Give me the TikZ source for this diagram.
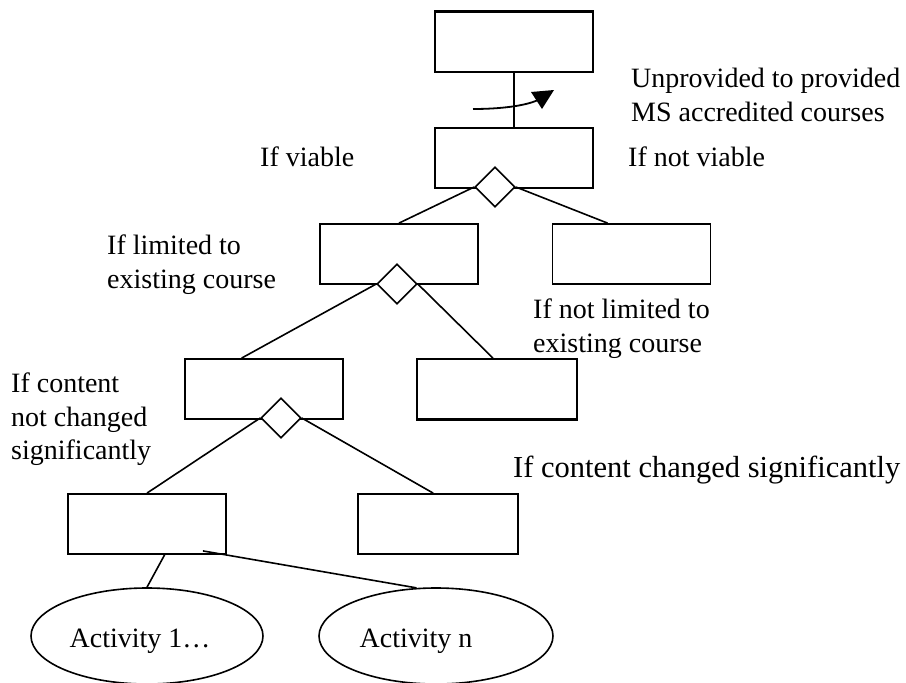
\documentclass[tikz,border=0pt]{standalone}
\usepackage{fontspec}
\setmainfont{Liberation Serif}
\usetikzlibrary{shapes.geometric,calc}

\begin{document}
\begin{tikzpicture}[x=1pt,y=-1pt,
  box/.style={draw, line width=1.8pt, minimum width=158pt, minimum height=60pt, inner sep=0pt},
  gate/.style={draw, fill=white, shape=diamond, line width=1.6pt, minimum width=40pt, minimum height=40pt, inner sep=0pt},
  leaf/.style={draw, ellipse, line width=1.6pt, minimum width=232pt, minimum height=96pt, inner sep=0pt},
  link/.style={line width=1.6pt},
  lbl/.style={anchor=base west, inner sep=0pt, font=\fontsize{28}{34}\selectfont},
]
\useasboundingbox (0,0) rectangle (906,683);

% decision boxes
\node[box] (top) at (514,42) {};
\node[box] (b2) at (514,158) {};
\node[box] (bA) at (399,254) {};
\node[box] (bB) at (631.5,254) {};
\node[box] (bC) at (264,389) {};
\node[box, minimum width=160pt] (bD) at (497,389) {};
\node[box] (bE) at (147,524) {};
\node[box, minimum width=160pt] (bF) at (438,524) {};

% heavier edges
\draw[line width=3pt] (top.north west) -- (top.north east);
\draw[line width=3pt] (bD.south west) -- (bD.south east);

% activities
\node[leaf] (e1) at (147,636) {};
\node[leaf, minimum width=234pt] (e2) at (436,636) {};

% branch points
\node[gate] (g1) at (495,187) {};
\node[gate] (g2) at (397,284) {};
\node[gate] (g3) at (281,418) {};

% connectors
\draw[line width=1.2pt] (top.south) -- (b2.north);
\draw[link] (g1.west) -- (bA.north);
\draw[link] (g1.east) -- ($(bB.north west)!0.35!(bB.north east)$);
\draw[link] (g2.west) -- ($(bC.north west)!0.36!(bC.north east)$);
\draw[link] (g2.east) -- ($(bD.north west)!0.475!(bD.north east)$);
\draw[link] (g3.west) -- (bE.north);
\draw[link] (g3.east) -- ($(bF.north west)!0.47!(bF.north east)$);
\draw[link] ($(bE.south west)!0.61!(bE.south east)$) -- (e1.north);
\draw[link] ($(bE.south east)+(-24,-4)$) -- (e2.112);

% transition arrow
\coordinate (sw0) at (473,109);
\coordinate (sw1) at (538,100);
\draw[line width=1.8pt] (sw0) .. controls (500,109) and (525,106) .. (sw1);
\fill (531,92) -- (554,90) -- (542,109) -- cycle;

% labels
\node[lbl] (u1) at (631,87) {Unprovided to provided};
\node[lbl] (u2) at (631,121) {MS accredited courses};
\node[lbl] (lv) at (260,166) {If viable};
\node[lbl] (lnv) at (628,166) {If not viable};
\node[lbl] (ll1) at (107,254) {If limited to};
\node[lbl] (ll2) at (107,288) {existing course};
\node[lbl] (lnl1) at (533,318) {If not limited to};
\node[lbl] (lnl2) at (533,352) {existing course};
\node[lbl] (lc1) at (11,392) {If content};
\node[lbl] (lc2) at (11,426) {not changed};
\node[lbl] (lc3) at (11,459) {significantly};
\node[lbl, font=\fontsize{30.5}{34}\selectfont] (lcs) at (513,477) {If content changed significantly};
\node[lbl, anchor=base] (t1) at (140,647) {Activity 1…};
\node[lbl, anchor=base] (tn) at (416,647) {Activity n};
\end{tikzpicture}
\end{document}
